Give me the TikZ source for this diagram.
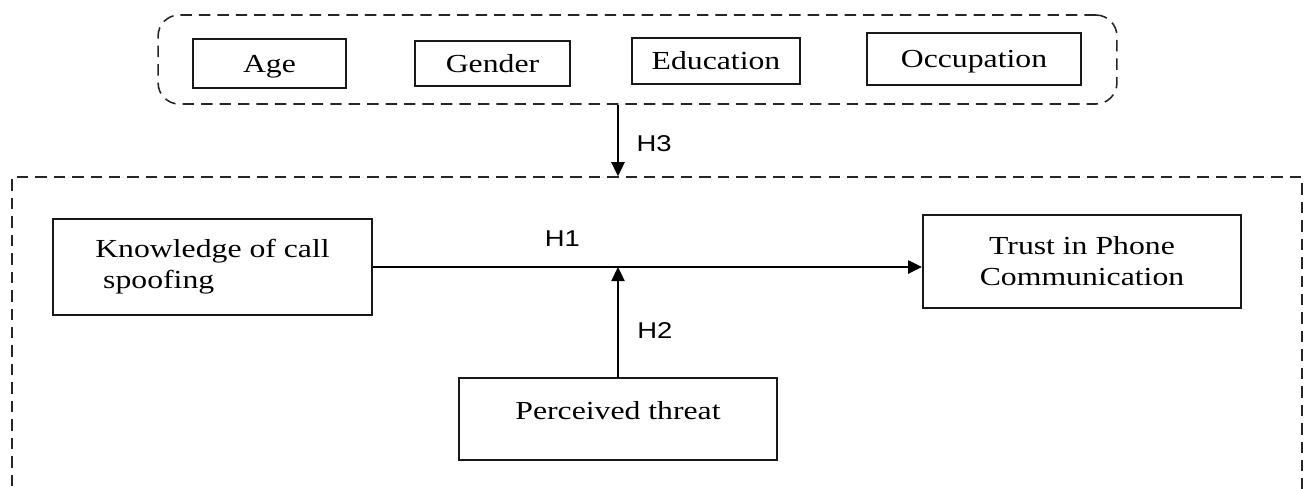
\documentclass[tikz,border=0pt]{standalone}
\usepackage{fontspec}
\setmainfont{Liberation Serif}[FakeStretch=1.22]
\setsansfont{Liberation Sans}[FakeStretch=1.2]
\usetikzlibrary{arrows.meta}

\begin{document}
\begin{tikzpicture}[x=0.02cm,y=-0.02cm,
    var/.style={draw=black!90,line width=1.1pt,inner sep=0pt,font=\fontsize{14.8}{17.6}\selectfont},
    demvar/.style={var,text height=10pt,text depth=0pt},
    grp/.style={draw=black!85,line width=0.9pt,dash pattern=on 6.5pt off 4pt,inner sep=0pt},
    hyp/.style={draw=black,line width=1.1pt,-{Triangle[length=8pt,width=7.5pt]}},
    hlab/.style={font=\sffamily\fontsize{13}{15}\selectfont,inner sep=0pt}]
        \useasboundingbox (0,0) rectangle (1305,488);
        \clip (0,0) rectangle (1305,488);

        % Demographic group
        \node[grp,rounded corners=12pt,minimum width=19.18cm,minimum height=1.78cm] (demo) at (637.5,59.5) {};
            \node[demvar,minimum width=3.06cm,minimum height=0.98cm] (age) at (269.5,63.5) {Age};
            \node[demvar,minimum width=3.1cm,minimum height=0.9cm] (gender) at (492.5,63.5) {Gender};
            \node[demvar,minimum width=3.36cm,minimum height=0.92cm] (educ) at (716,61) {Education};
            \node[demvar,minimum width=4.28cm,minimum height=1.04cm] (occup) at (974,59) {Occupation};

        % Research model
        \node[grp,minimum width=25.8cm,minimum height=6.66cm] (model) at (657,343.5) {};

        % Variables
        \node[var,minimum width=6.38cm,minimum height=1.92cm,align=left] (know) at (212.5,267) {Knowledge of call\\\hspace*{4.5pt}spoofing};
        \node[var,minimum width=6.36cm,minimum height=1.86cm,align=center] (trust) at (1082,261.5) {Trust in Phone\\Communication};
        \node[var,minimum width=6.36cm,minimum height=1.64cm,text depth=10pt] (perc) at (618,419) {Perceived threat};
        \coordinate (meet) at (perc.north |- know.east);

        % Hypotheses
        \draw[hyp] (know.east) -- node[hlab,pos=0.345,above=11pt] {H1} (know.east -| trust.west);
        \draw[hyp] (perc.north) -- node[hlab,pos=0.42,right=10.5pt] {H2} (meet);
        \draw[hyp] (demo.south -| perc.north) -- node[hlab,pos=0.54,right=10pt] {H3} (model.north -| perc.north);
\end{tikzpicture}
\end{document}
